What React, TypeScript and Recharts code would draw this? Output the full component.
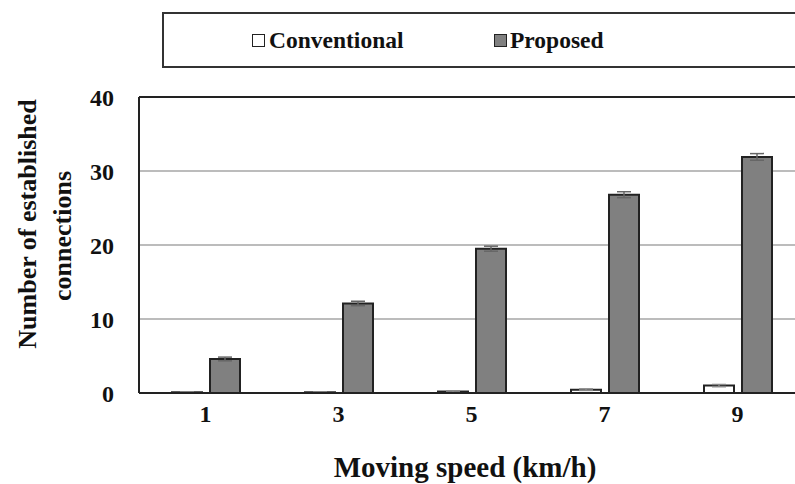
import React from "react";
import {
  BarChart,
  Bar,
  XAxis,
  YAxis,
  CartesianGrid,
  ErrorBar,
  Legend,
  ReferenceLine,
} from "recharts";

// moving speed (km/h) on the x axis
const speeds = ["1", "3", "5", "7", "9"];
const conventional = [0.1, 0.1, 0.2, 0.45, 1.0];
const conventionalErr = [0.05, 0.05, 0.08, 0.1, 0.15];
const proposed = [4.6, 12.1, 19.5, 26.8, 31.9];
const proposedErr = [0.25, 0.3, 0.34, 0.4, 0.45];
const yTicks = [0, 10, 20, 30, 40];

const data = speeds.map((s, i) => ({
  speed: s,
  conventional: conventional[i],
  conventionalErr: conventionalErr[i],
  proposed: proposed[i],
  proposedErr: proposedErr[i],
}));

const FONT = "'Liberation Serif', 'Times New Roman', serif";
const EDGE = "#222";
const GRAY = "#808080";

const swatch = (left: number, fill: string): React.CSSProperties => ({
  position: "absolute",
  left,
  top: 20,
  width: 13,
  height: 13,
  boxSizing: "border-box",
  border: `1.5px solid ${EDGE}`,
  background: fill,
});

const LegendBox = () => (
  <div
    style={{
      position: "absolute",
      left: 162,
      top: 12,
      width: 660,
      height: 56,
      boxSizing: "border-box",
      border: "2px solid #333",
      background: "#fff",
      fontFamily: FONT,
      fontWeight: "bold",
      fontSize: 23.5,
      color: "#111",
    }}
  >
    <div style={swatch(88, "#fff")} />
    <div style={{ position: "absolute", left: 105, top: 12, lineHeight: "28px" }}>Conventional</div>
    <div style={swatch(330, GRAY)} />
    <div style={{ position: "absolute", left: 346, top: 12, lineHeight: "28px" }}>Proposed</div>
  </div>
);

const YTitle = (props: any) => {
  const { viewBox } = props;
  const cy = viewBox.y + viewBox.height / 2;
  return (
    <g fontFamily={FONT} fontWeight="bold" fontSize={26} fill="#111">
      <text transform={`translate(36, ${cy - 21}) rotate(-90)`} textAnchor="middle">
        Number of established
      </text>
      <text transform={`translate(71, ${cy - 9}) rotate(-90)`} textAnchor="middle">
        connections
      </text>
    </g>
  );
};

const XTitle = (props: any) => {
  const { viewBox } = props;
  return (
    <text
      x={viewBox.x + 326}
      y={477}
      textAnchor="middle"
      fontFamily={FONT}
      fontWeight="bold"
      fontSize={29}
      fill="#111"
    >
      Moving speed (km/h)
    </text>
  );
};

export default function App() {
  return (
    <div
      style={{
        position: "fixed",
        left: 0,
        top: 0,
        width: 795,
        height: 484,
        overflow: "hidden",
        background: "#fff",
      }}
    >
      <BarChart
        width={810}
        height={484}
        data={data}
        margin={{ top: 97, right: 6, bottom: 0, left: 0 }}
        barSize={30}
        barGap={8}
      >
        <CartesianGrid vertical={false} stroke="#a6a6a6" strokeWidth={1.5} />
        <XAxis
          dataKey="speed"
          height={91}
          axisLine={{ stroke: EDGE, strokeWidth: 2 }}
          tickLine={false}
          tickSize={0}
          tickMargin={12}
          tick={{ fontFamily: FONT, fontWeight: "bold", fontSize: 24, fill: "#111" }}
          label={{ content: XTitle }}
        />
        <YAxis
          width={139}
          domain={[0, 40]}
          ticks={yTicks}
          axisLine={{ stroke: EDGE, strokeWidth: 2 }}
          tickLine={false}
          tickSize={0}
          tickMargin={25}
          tick={{ fontFamily: FONT, fontWeight: "bold", fontSize: 24, fill: "#111" }}
          label={{ content: YTitle }}
        />
        <ReferenceLine y={40} stroke={EDGE} strokeWidth={2} />
        <Legend content={() => null} />
        <Bar dataKey="conventional" fill="#fff" stroke={EDGE} strokeWidth={2} isAnimationActive={false}>
          <ErrorBar dataKey="conventionalErr" width={7} stroke="#888" strokeWidth={1.5} />
        </Bar>
        <Bar dataKey="proposed" fill={GRAY} stroke={EDGE} strokeWidth={2} isAnimationActive={false}>
          <ErrorBar dataKey="proposedErr" width={7} stroke="#666" strokeWidth={1.5} />
        </Bar>
      </BarChart>
      <LegendBox />
    </div>
  );
}
